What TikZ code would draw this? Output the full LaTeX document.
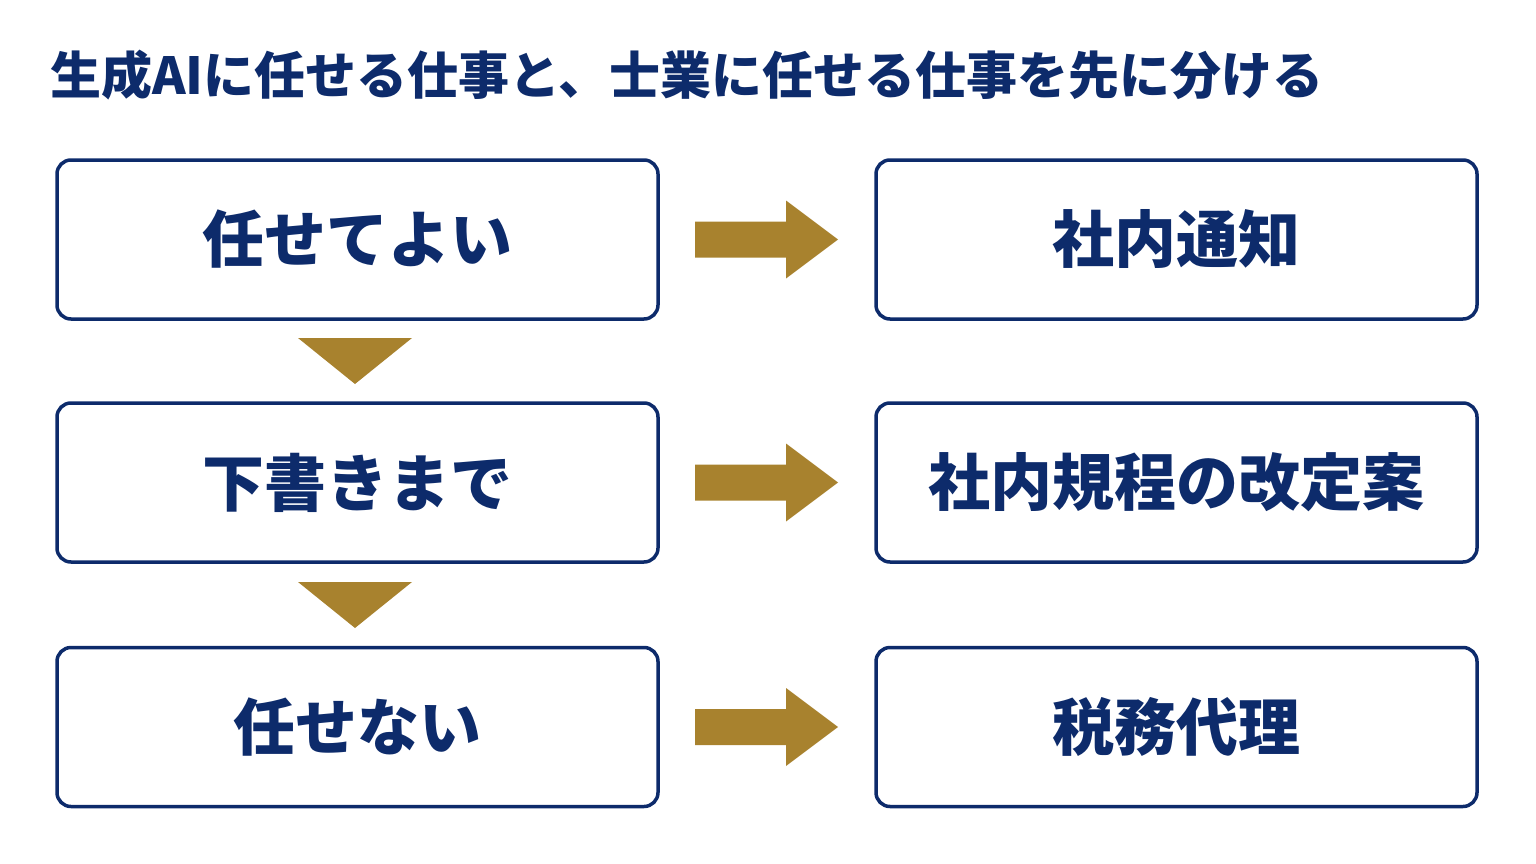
\documentclass[tikz,border=0pt]{standalone}
\usepackage{fontspec}
\newfontfamily\cjk{Noto Sans CJK JP}
\usetikzlibrary{positioning}
\definecolor{navy}{HTML}{0D2B6B}
\definecolor{gold}{HTML}{A8822E}
\begin{document}
\begin{tikzpicture}[x=1pt,y=-1pt,
    box/.style = {draw=navy,line width=3.5pt,rounded corners=14pt,minimum width=601pt,minimum height=159pt,
                  font=\cjk\bfseries\fontsize{62}{62}\selectfont,text=navy},
    goldfill/.style = {fill=gold,draw=none}]
  \useasboundingbox (0,0) rectangle (1536,864);
  \node[anchor=west,inner sep=0,text=navy,font=\cjk\bfseries\fontsize{51}{51}\selectfont] (title) at (50,75) {生成AIに任せる仕事と、士業に任せる仕事を先に分ける};

  % left column
  \node[box] (ok) at (357.5,239.5) {任せてよい};
  \node[box] (draft) at (357.5,482.5) {下書きまで};
  \node[box] (no) at (357.5,727) {任せない};

  % right column
  \node[box] (notice) at (1176.5,239.5) {社内通知};
  \node[box] (rules) at (1176.5,482.5) {社内規程の改定案};
  \node[box] (tax) at (1176.5,727) {税務代理};

  % down triangles
  \fill[goldfill] (298,338) -- (412,338) -- (355,384) -- cycle;
  \fill[goldfill] (298,582) -- (412,582) -- (355,628) -- cycle;

  % right arrows
  \foreach \y in {239.5,482.5,727}
    \fill[goldfill] (695,\y-18) -- (786,\y-18) -- (786,\y-39) -- (838,\y) -- (786,\y+39) -- (786,\y+18) -- (695,\y+18) -- cycle;
\end{tikzpicture}
\end{document}
